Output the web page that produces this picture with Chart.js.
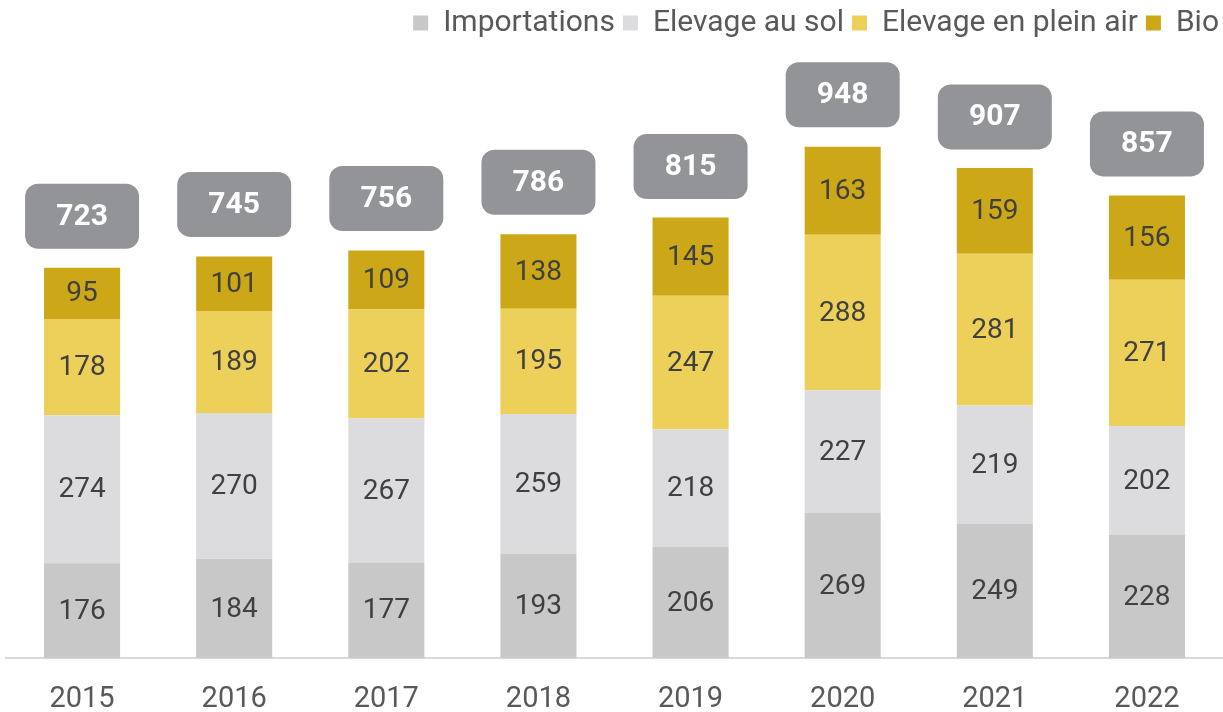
<!DOCTYPE html>
<html lang="fr">
<head>
  <meta charset="UTF-8">
  <title>Oeufs par mode d'élevage</title>
  <script src="https://cdn.jsdelivr.net/npm/chart.js"></script>
  <style>
    html, body { margin: 0; padding: 0; background: #fff; }
    #wrap { width: 1223px; height: 712px; }
  </style>
</head>
<body>
  <div id="wrap"><canvas id="eggChart"></canvas></div>

  <script>
    const years = ['2015', '2016', '2017', '2018', '2019', '2020', '2021', '2022'];
    const importations = [176, 184, 177, 193, 206, 269, 249, 228];
    const elevageSol = [274, 270, 267, 259, 218, 227, 219, 202];
    const pleinAir = [178, 189, 202, 195, 247, 288, 281, 271];
    const bio = [95, 101, 109, 138, 145, 163, 159, 156];
    const totals = [723, 745, 756, 786, 815, 948, 907, 857];

    // values inside each segment
    const segmentLabels = {
      id: 'segmentLabels',
      afterDatasetsDraw(chart) {
        const ctx = chart.ctx;
        ctx.save();
        ctx.font = '28px Roboto';
        ctx.fillStyle = '#404040';
        ctx.textAlign = 'center';
        ctx.textBaseline = 'middle';
        chart.data.datasets.forEach((ds, di) => {
          chart.getDatasetMeta(di).data.forEach((bar, i) => {
            ctx.fillText(ds.data[i], bar.x, (bar.y + bar.base) / 2 + 1);
          });
        });
        ctx.restore();
      }
    };

    // grey rounded boxes with the totals
    const totalBoxes = {
      id: 'totalBoxes',
      afterDatasetsDraw(chart) {
        const ctx = chart.ctx;
        const yScale = chart.scales.y;
        const meta = chart.getDatasetMeta(0);
        ctx.save();
        totals.forEach((t, i) => {
          const x = meta.data[i].x;
          const top = yScale.getPixelForValue(t);
          const w = 114, h = 65;
          const bottom = top - 19;
          ctx.fillStyle = '#939498';
          ctx.beginPath();
          ctx.roundRect(x - w / 2, bottom - h, w, h, 13);
          ctx.fill();
          ctx.fillStyle = '#ffffff';
          ctx.font = 'bold 30px Roboto';
          ctx.textAlign = 'center';
          ctx.textBaseline = 'middle';
          ctx.fillText(t, x, bottom - h / 2 + 1);
        });
        ctx.restore();
      }
    };

    const ctx = document.getElementById('eggChart').getContext('2d');
    new Chart(ctx, {
      type: 'bar',
      data: {
        labels: years,
        datasets: [
          { label: 'Importations', data: importations, backgroundColor: '#c8c8c9' },
          { label: 'Elevage au sol', data: elevageSol, backgroundColor: '#dcdcde' },
          { label: 'Elevage en plein air', data: pleinAir, backgroundColor: '#edd05a' },
          { label: 'Bio', data: bio, backgroundColor: '#cca818' }
        ]
      },
      options: {
        responsive: true,
        maintainAspectRatio: false,
        animation: false,
        layout: { padding: { left: 6, right: -4, top: 0, bottom: -29 } },
        datasets: { bar: { categoryPercentage: 1, barPercentage: 0.5 } },
        plugins: {
          legend: {
            position: 'top',
            align: 'end',
            labels: {
              usePointStyle: true,
              pointStyle: 'rect',
              boxWidth: 15,
              boxHeight: 15,
              padding: 8,
              color: '#595959',
              font: { family: 'Roboto', size: 30 }
            }
          },
          tooltip: { enabled: false }
        },
        scales: {
          x: {
            stacked: true,
            grid: { display: false, drawTicks: false },
            border: { color: '#d9d9d9', width: 2 },
            ticks: { color: '#595959', font: { family: 'Roboto', size: 29 }, padding: 24 }
          },
          y: {
            stacked: true,
            display: false,
            min: 0,
            max: 1130
          }
        }
      },
      plugins: [segmentLabels, totalBoxes]
    });
  </script>
</body>
</html>
